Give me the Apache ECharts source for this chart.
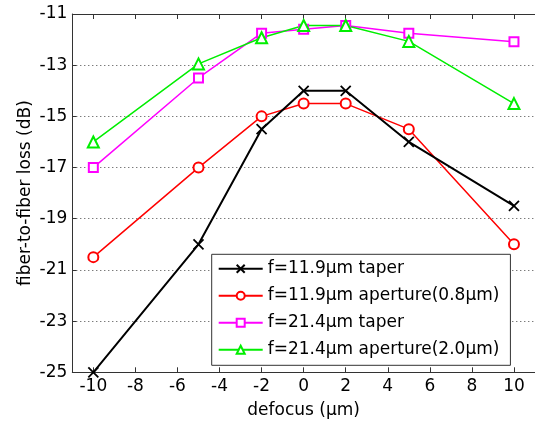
<!DOCTYPE html>
<html><head><meta charset="utf-8">
<script src="https://cdn.jsdelivr.net/npm/echarts@6/dist/echarts.min.js"></script>
<style>html,body{margin:0;padding:0;background:#fff}#c{width:535px;height:426px}</style>
</head><body><div id="c"></div>
<script>
// x values (defocus, µm)
const defocus = [-10, -5, -2, 0, 2, 5, 10];
// y values (fiber-to-fiber loss, dB)
const taper119 = [-25, -20, -15.5, -14, -14, -16, -18.5];
const aperture119 = [-20.5, -17, -15, -14.5, -14.5, -15.5, -20];
const taper214 = [-17, -13.5, -11.75, -11.6, -11.45, -11.75, -12.08];
const aperture214 = [-16, -12.95, -11.93, -11.45, -11.45, -12.07, -14.5];
// tick labels
const xTicks = [-10, -8, -6, -4, -2, 0, 2, 4, 6, 8, 10];
const seriesNames = ['f=11.9µm taper', 'f=11.9µm aperture(0.8µm)', 'f=21.4µm taper', 'f=21.4µm aperture(2.0µm)'];
const xTitle = 'defocus (µm)';
const yTitle = 'fiber-to-fiber loss (dB)';

const FONT = 'DejaVu Sans';
const pair = ys => defocus.map((x, i) => [x, ys[i]]);
const axisCol = '#333';

const chart = echarts.init(document.getElementById('c'), null, {renderer: 'canvas'});
chart.setOption({
  animation: false,
  backgroundColor: '#fff',
  textStyle: {fontFamily: FONT},
  grid: {left: 72.3, top: 14, right: -3.5, bottom: 53.7, containLabel: false},
  xAxis: [{
    type: 'value', min: -11, max: 11, position: 'bottom',
    name: xTitle, nameLocation: 'middle', nameGap: 30, nameMoveOverlap: false,
    nameTextStyle: {fontFamily: FONT, fontSize: 17, color: '#000'},
    axisLine: {show: true, onZero: false, lineStyle: {color: axisCol, width: 1}},
    axisTick: {show: true, inside: true, length: 5, lineStyle: {color: axisCol}, customValues: xTicks},
    axisLabel: {show: true, fontFamily: FONT, fontSize: 17, color: '#000', margin: 6, customValues: xTicks},
    splitLine: {show: false}
  }, {
    type: 'value', min: -11, max: 11, position: 'top',
    axisLine: {show: true, onZero: false, lineStyle: {color: axisCol, width: 1}},
    axisTick: {show: true, inside: true, length: 5, lineStyle: {color: axisCol}, customValues: xTicks},
    axisLabel: {show: false},
    splitLine: {show: false}
  }],
  yAxis: [{
    type: 'value', min: -25, max: -11, interval: 2,
    name: yTitle, nameLocation: 'middle', nameGap: 38, nameMoveOverlap: false,
    nameTextStyle: {fontFamily: FONT, fontSize: 17, color: '#000'},
    axisLine: {show: true, onZero: false, lineStyle: {color: axisCol, width: 1}},
    axisTick: {show: true, inside: true, length: 4, lineStyle: {color: axisCol}},
    axisLabel: {show: true, fontFamily: FONT, fontSize: 17, color: '#000', margin: 5},
    splitLine: {show: true, lineStyle: {color: '#444', width: 1, type: [1, 3]}}
  }],
  legend: {
    show: true, orient: 'vertical', left: 211.7, top: 254.3,
    padding: [6, 11, 7, 6], itemGap: 10, itemWidth: 44, itemHeight: 10,
    backgroundColor: '#fff', borderColor: '#333', borderWidth: 1,
    textStyle: {fontFamily: FONT, fontSize: 17, color: '#000', lineHeight: 17},
    data: seriesNames
  },
  series: [
    {name: seriesNames[0], type: 'line', data: pair(taper119),
     symbol: 'path://M0,0L10,10M10,0L0,10', symbolSize: 10,
     itemStyle: {color: '#000', borderColor: '#000', borderWidth: 1.8},
     lineStyle: {color: '#000', width: 2}, z: 3},
    {name: seriesNames[1], type: 'line', data: pair(aperture119),
     symbol: 'emptyCircle', symbolSize: 10,
     itemStyle: {color: '#ff0000', borderColor: '#ff0000', borderWidth: 1.5},
     lineStyle: {color: '#ff0000', width: 1.5}, z: 2},
    {name: seriesNames[2], type: 'line', data: pair(taper214),
     symbol: 'emptyRect', symbolSize: 9,
     itemStyle: {color: '#ff00ff', borderColor: '#ff00ff', borderWidth: 1.5},
     lineStyle: {color: '#ff00ff', width: 1.5}, z: 2},
    {name: seriesNames[3], type: 'line', data: pair(aperture214),
     symbol: 'emptyTriangle', symbolSize: 11,
     itemStyle: {color: '#00ee00', borderColor: '#00ee00', borderWidth: 1.5},
     lineStyle: {color: '#00ee00', width: 1.5}, z: 2}
  ]
});
</script></body></html>
